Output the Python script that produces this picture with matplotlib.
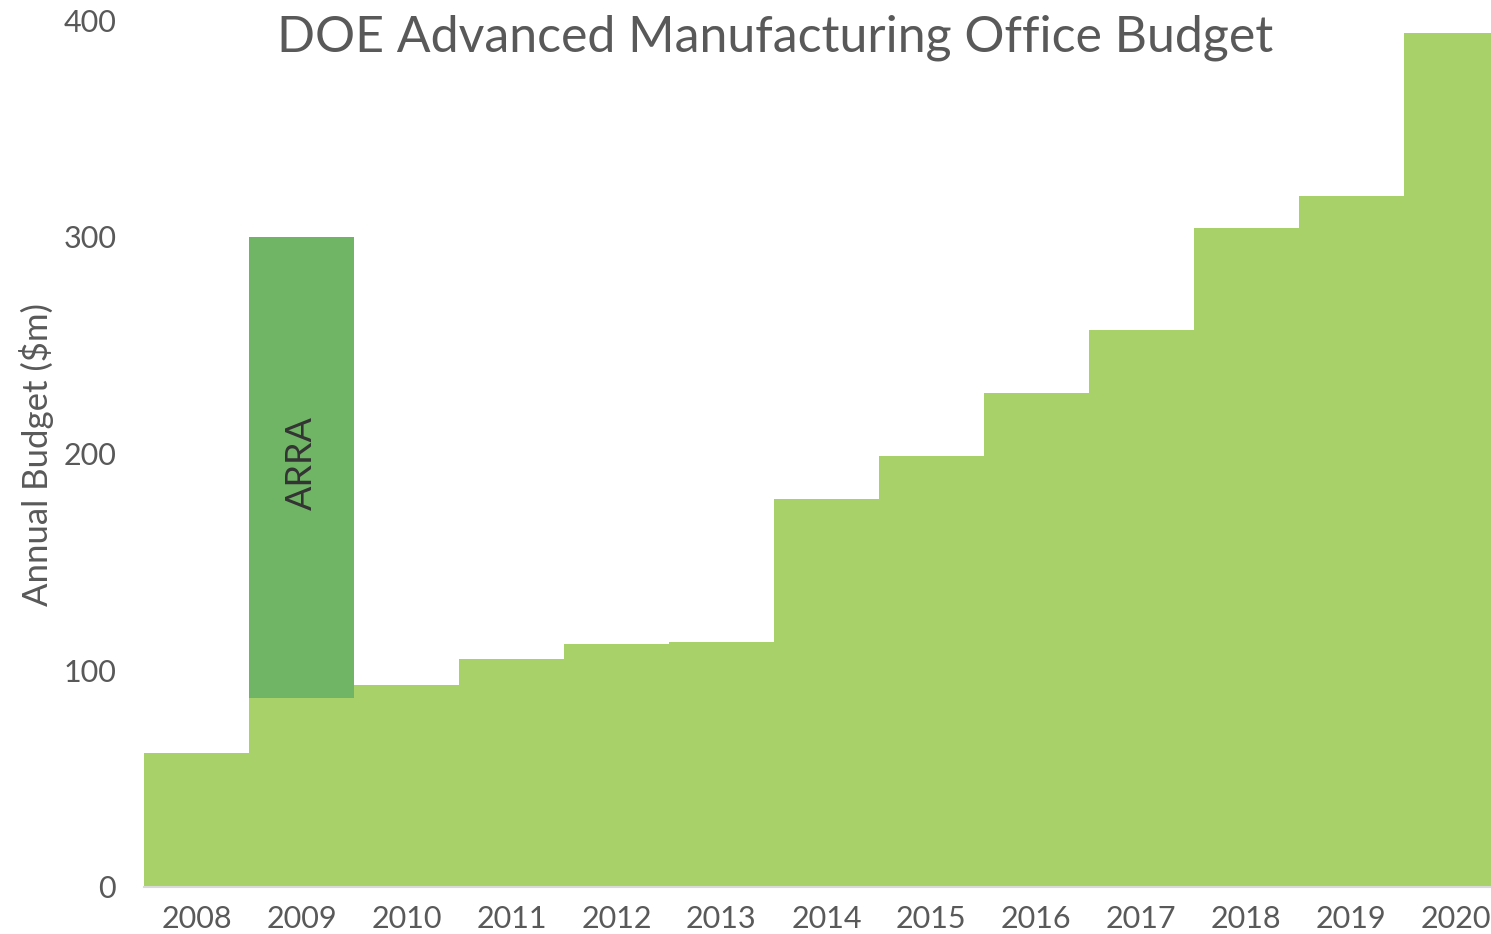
import matplotlib
matplotlib.use("Agg")
import matplotlib.pyplot as plt

years = ["2008", "2009", "2010", "2011", "2012", "2013", "2014",
         "2015", "2016", "2017", "2018", "2019", "2020"]
base_budget = [62, 87, 93, 105, 112, 113, 179, 199, 228, 257, 304, 319, 394]
arra_budget = [0, 213, 0, 0, 0, 0, 0, 0, 0, 0, 0, 0, 0]
y_ticks = [0, 100, 200, 300, 400]

plt.rcParams['font.family'] = ['Lato', 'DejaVu Sans']
grey = '#595959'

fig = plt.figure(figsize=(14.91, 9.34), dpi=100)
ax = fig.add_axes([144/1491, 47/934, 1 - 144/1491, (887-20)/934])

x = list(range(len(years)))
ax.bar(x, base_budget, width=1.0, color='#a9d16a', linewidth=0)
ax.bar(x, arra_budget, width=1.0, bottom=base_budget, color='#70b565', linewidth=0)

ax.text(1, base_budget[1] + arra_budget[1] * 0.51, "ARRA", rotation=90,
        ha='center', va='center', fontsize=26, color='#333333')

ax.set_xlim(-0.5, 12.33)
ax.set_ylim(0, 400)
ax.set_xticks(x)
ax.set_xticklabels(years, fontsize=22, color=grey)
ax.set_yticks(y_ticks)
ax.set_yticklabels([str(t) for t in y_ticks], fontsize=22, color=grey)
ax.tick_params(axis='both', length=0)
ax.tick_params(axis='y', pad=20)
ax.tick_params(axis='x', pad=13)
for s in ['top', 'right', 'left']:
    ax.spines[s].set_visible(False)
ax.spines['bottom'].set_color('#d9d9d9')
ax.spines['bottom'].set_linewidth(1.5)

ax.set_ylabel("Annual Budget ($m)", fontsize=25, color=grey, labelpad=7)
ax.yaxis.label.set_position((0, (887 - 455) / 867))
fig.text(775/1491, 1 - 38/934, "DOE Advanced Manufacturing Office Budget",
         ha='center', va='center', fontsize=36, color=grey)

fig.savefig("out.png", dpi=100)
